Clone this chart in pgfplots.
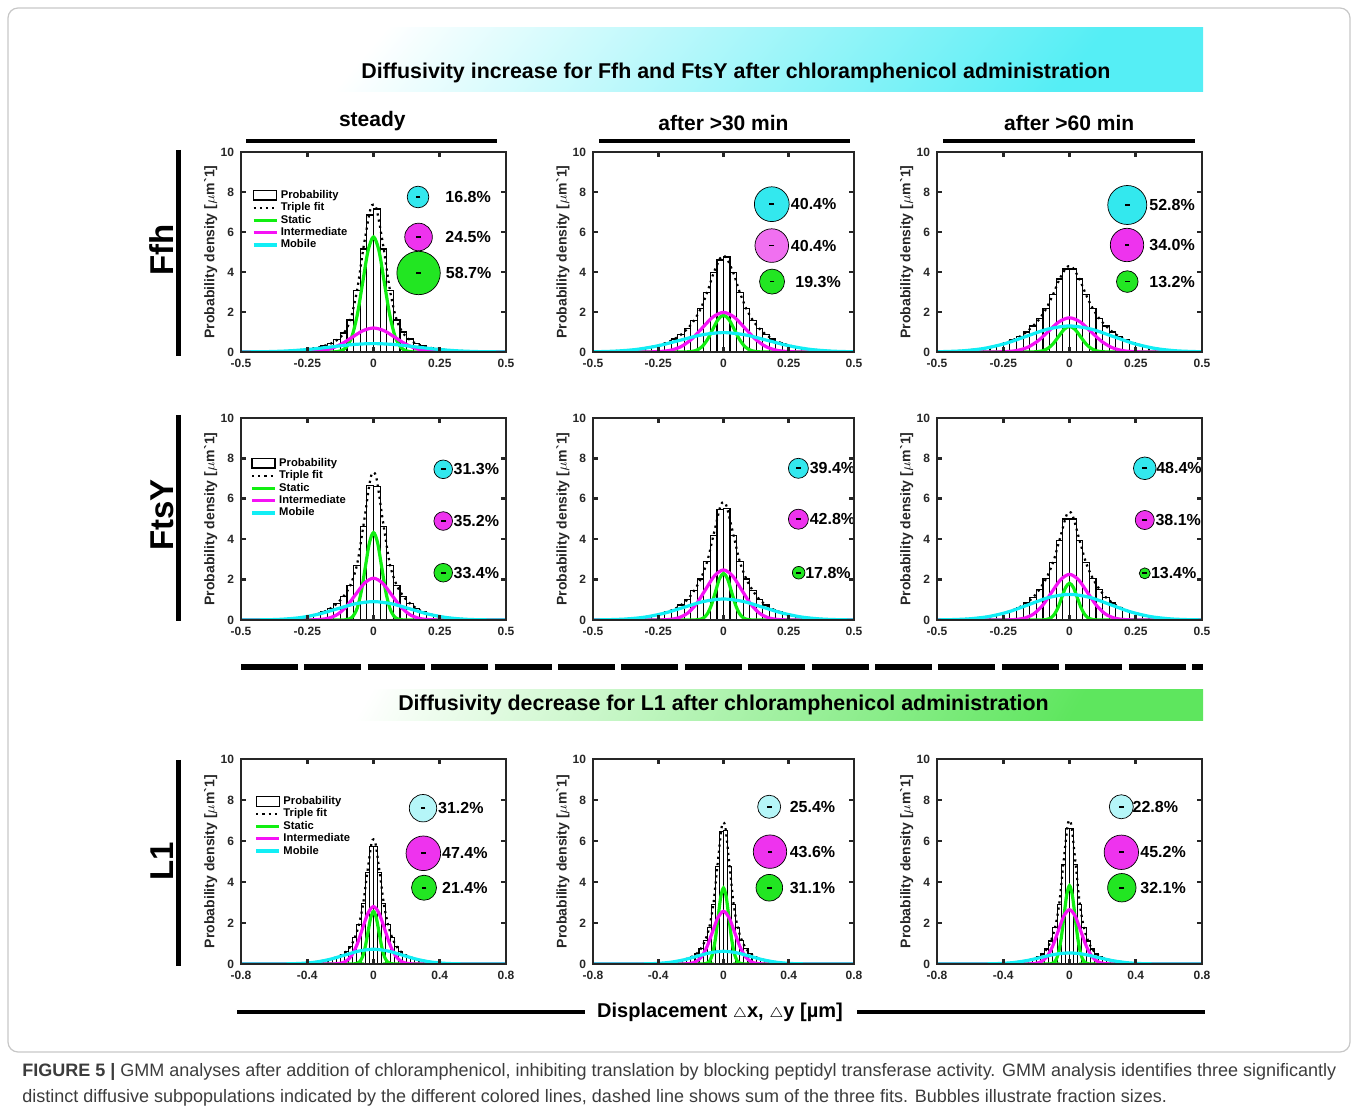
\documentclass[border=0pt]{standalone}
\usepackage{fontspec}
\setmainfont{Liberation Sans}
\usepackage{pgfplots}
\usepackage{pgfplotstable}
\pgfplotsset{compat=1.18}

\definecolor{axgray}{HTML}{262626}
\definecolor{gline}{HTML}{11EE11}
\definecolor{mline}{HTML}{F511F5}
\definecolor{cline}{HTML}{11EEF5}
\definecolor{gbub}{HTML}{22E622}
\definecolor{mbub}{HTML}{EE33EE}
\definecolor{mbubl}{HTML}{F070F0}
\definecolor{cbub}{HTML}{33E8EE}
\definecolor{cbubl}{HTML}{B5F6F8}
\definecolor{capgray}{HTML}{3C3C3C}
\definecolor{bancyan}{HTML}{55EEF5}
\definecolor{bangreen}{HTML}{5EE65E}

% histograms (bin centres) and triple fit, one table per panel
\pgfplotstableread{
x h f
-0.4875 0.004 0.004
-0.4625 0.006 0.006
-0.4375 0.010 0.010
-0.4125 0.015 0.015
-0.3875 0.022 0.022
-0.3625 0.032 0.032
-0.3375 0.045 0.045
-0.3125 0.062 0.062
-0.2875 0.086 0.086
-0.2625 0.115 0.115
-0.2375 0.160 0.160
-0.2125 0.210 0.210
-0.1875 0.300 0.300
-0.1625 0.410 0.410
-0.1375 0.620 0.600
-0.1125 0.950 0.920
-0.0875 1.600 1.600
-0.0625 3.070 3.050
-0.0375 5.150 5.250
-0.0125 6.850 7.100
0 nan 7.370
0.0125 7.150 7.100
0.0375 5.150 5.250
0.0625 3.070 3.050
0.0875 1.600 1.600
0.1125 1.000 0.920
0.1375 0.650 0.600
0.1625 0.420 0.410
0.1875 0.300 0.300
0.2125 0.210 0.210
0.2375 0.160 0.160
0.2625 0.115 0.115
0.2875 0.086 0.086
0.3125 0.062 0.062
0.3375 0.045 0.045
0.3625 0.032 0.032
0.3875 0.022 0.022
0.4125 0.015 0.015
0.4375 0.010 0.010
0.4625 0.006 0.006
0.4875 0.004 0.004
}\tAA

\pgfplotstableread{
x h f
-0.4875 0.013 0.013
-0.4625 0.020 0.020
-0.4375 0.030 0.030
-0.4125 0.045 0.045
-0.3875 0.064 0.064
-0.3625 0.089 0.089
-0.3375 0.122 0.122
-0.3125 0.165 0.165
-0.2875 0.220 0.220
-0.2625 0.290 0.290
-0.2375 0.380 0.380
-0.2125 0.490 0.490
-0.1875 0.650 0.650
-0.1625 0.870 0.870
-0.1375 1.170 1.170
-0.1125 1.580 1.580
-0.0875 2.160 2.160
-0.0625 2.980 2.980
-0.0375 3.960 3.960
-0.0125 4.600 4.690
0 nan 4.790
0.0125 4.750 4.690
0.0375 3.960 3.960
0.0625 2.980 2.980
0.0875 2.160 2.160
0.1125 1.580 1.580
0.1375 1.170 1.170
0.1625 0.870 0.870
0.1875 0.650 0.650
0.2125 0.490 0.490
0.2375 0.380 0.380
0.2625 0.290 0.290
0.2875 0.220 0.220
0.3125 0.165 0.165
0.3375 0.122 0.122
0.3625 0.089 0.089
0.3875 0.064 0.064
0.4125 0.045 0.045
0.4375 0.030 0.030
0.4625 0.020 0.020
0.4875 0.013 0.013
}\tAB

\pgfplotstableread{
x h f
-0.4875 0.014 0.014
-0.4625 0.022 0.022
-0.4375 0.034 0.034
-0.4125 0.051 0.051
-0.3875 0.074 0.074
-0.3625 0.110 0.110
-0.3375 0.150 0.150
-0.3125 0.200 0.200
-0.2875 0.270 0.270
-0.2625 0.360 0.360
-0.2375 0.460 0.460
-0.2125 0.600 0.600
-0.1875 0.770 0.770
-0.1625 1.000 1.000
-0.1375 1.300 1.300
-0.1125 1.670 1.670
-0.0875 2.180 2.180
-0.0625 2.860 2.860
-0.0375 3.650 3.650
-0.0125 4.150 4.210
0 nan 4.290
0.0125 4.150 4.210
0.0375 3.650 3.650
0.0625 2.860 2.860
0.0875 2.180 2.180
0.1125 1.670 1.670
0.1375 1.300 1.300
0.1625 1.000 1.000
0.1875 0.770 0.770
0.2125 0.600 0.600
0.2375 0.460 0.460
0.2625 0.360 0.360
0.2875 0.270 0.270
0.3125 0.200 0.200
0.3375 0.150 0.150
0.3625 0.110 0.110
0.3875 0.074 0.074
0.4125 0.051 0.051
0.4375 0.034 0.034
0.4625 0.022 0.022
0.4875 0.014 0.014
}\tAC

\pgfplotstableread{
x h f
-0.4875 0.002 0.002
-0.4625 0.003 0.003
-0.4375 0.006 0.006
-0.4125 0.010 0.010
-0.3875 0.016 0.016
-0.3625 0.027 0.027
-0.3375 0.044 0.044
-0.3125 0.067 0.067
-0.2875 0.100 0.100
-0.2625 0.146 0.146
-0.2375 0.210 0.210
-0.2125 0.290 0.290
-0.1875 0.400 0.400
-0.1625 0.570 0.570
-0.1375 0.820 0.820
-0.1125 1.180 1.180
-0.0875 1.720 1.720
-0.0625 2.720 2.720
-0.0375 4.650 4.720
-0.0125 6.650 6.930
0 nan 7.310
0.0125 6.600 6.930
0.0375 4.650 4.720
0.0625 2.720 2.720
0.0875 1.720 1.720
0.1125 1.180 1.180
0.1375 0.820 0.820
0.1625 0.570 0.570
0.1875 0.400 0.400
0.2125 0.290 0.290
0.2375 0.210 0.210
0.2625 0.146 0.146
0.2875 0.100 0.100
0.3125 0.067 0.067
0.3375 0.044 0.044
0.3625 0.027 0.027
0.3875 0.016 0.016
0.4125 0.010 0.010
0.4375 0.006 0.006
0.4625 0.003 0.003
0.4875 0.002 0.002
}\tBA

\pgfplotstableread{
x h f
-0.4875 0.006 0.006
-0.4625 0.010 0.010
-0.4375 0.016 0.016
-0.4125 0.025 0.025
-0.3875 0.038 0.038
-0.3625 0.058 0.058
-0.3375 0.085 0.085
-0.3125 0.122 0.122
-0.2875 0.170 0.170
-0.2625 0.230 0.230
-0.2375 0.310 0.310
-0.2125 0.410 0.410
-0.1875 0.540 0.540
-0.1625 0.740 0.740
-0.1375 1.020 1.020
-0.1125 1.450 1.450
-0.0875 2.030 2.030
-0.0625 2.890 2.890
-0.0375 4.200 4.250
-0.0125 5.450 5.610
0 nan 5.830
0.0125 5.500 5.610
0.0375 4.200 4.250
0.0625 2.890 2.890
0.0875 2.030 2.030
0.1125 1.450 1.450
0.1375 1.020 1.020
0.1625 0.740 0.740
0.1875 0.540 0.540
0.2125 0.410 0.410
0.2375 0.310 0.310
0.2625 0.230 0.230
0.2875 0.170 0.170
0.3125 0.122 0.122
0.3375 0.085 0.085
0.3625 0.058 0.058
0.3875 0.038 0.038
0.4125 0.025 0.025
0.4375 0.016 0.016
0.4625 0.010 0.010
0.4875 0.006 0.006
}\tBB

\pgfplotstableread{
x h f
-0.4875 0.007 0.007
-0.4625 0.012 0.012
-0.4375 0.020 0.020
-0.4125 0.032 0.032
-0.3875 0.050 0.050
-0.3625 0.074 0.074
-0.3375 0.108 0.108
-0.3125 0.154 0.154
-0.2875 0.210 0.210
-0.2625 0.290 0.290
-0.2375 0.380 0.380
-0.2125 0.490 0.490
-0.1875 0.640 0.640
-0.1625 0.840 0.840
-0.1375 1.120 1.120
-0.1125 1.530 1.530
-0.0875 2.070 2.070
-0.0625 2.830 2.830
-0.0375 3.950 3.970
-0.0125 5.000 5.150
0 nan 5.350
0.0125 5.000 5.150
0.0375 3.950 3.970
0.0625 2.830 2.830
0.0875 2.070 2.070
0.1125 1.530 1.530
0.1375 1.120 1.120
0.1625 0.840 0.840
0.1875 0.640 0.640
0.2125 0.490 0.490
0.2375 0.380 0.380
0.2625 0.290 0.290
0.2875 0.210 0.210
0.3125 0.154 0.154
0.3375 0.108 0.108
0.3625 0.074 0.074
0.3875 0.050 0.050
0.4125 0.032 0.032
0.4375 0.020 0.020
0.4625 0.012 0.012
0.4875 0.007 0.007
}\tBC

\pgfplotstableread{
x h f
-0.5375 0.006 0.006
-0.5125 0.009 0.009
-0.4875 0.013 0.013
-0.4625 0.020 0.020
-0.4375 0.030 0.030
-0.4125 0.042 0.042
-0.3875 0.058 0.058
-0.3625 0.080 0.080
-0.3375 0.107 0.107
-0.3125 0.141 0.141
-0.2875 0.181 0.181
-0.2625 0.228 0.228
-0.2375 0.290 0.290
-0.2125 0.360 0.360
-0.1875 0.460 0.460
-0.1625 0.620 0.620
-0.1375 0.875 0.875
-0.1125 1.290 1.290
-0.0875 1.930 1.930
-0.0625 2.940 2.940
-0.0375 4.460 4.460
-0.0125 5.750 5.860
0 nan 6.080
0.0125 5.750 5.860
0.0375 4.460 4.460
0.0625 2.940 2.940
0.0875 1.930 1.930
0.1125 1.290 1.290
0.1375 0.875 0.875
0.1625 0.620 0.620
0.1875 0.460 0.460
0.2125 0.360 0.360
0.2375 0.290 0.290
0.2625 0.228 0.228
0.2875 0.181 0.181
0.3125 0.141 0.141
0.3375 0.107 0.107
0.3625 0.080 0.080
0.3875 0.058 0.058
0.4125 0.042 0.042
0.4375 0.030 0.030
0.4625 0.020 0.020
0.4875 0.013 0.013
0.5125 0.009 0.009
0.5375 0.006 0.006
}\tCA

\pgfplotstableread{
x h f
-0.5375 0.003 0.003
-0.5125 0.004 0.004
-0.4875 0.007 0.007
-0.4625 0.011 0.011
-0.4375 0.017 0.017
-0.4125 0.025 0.025
-0.3875 0.037 0.037
-0.3625 0.052 0.052
-0.3375 0.073 0.073
-0.3125 0.100 0.100
-0.2875 0.130 0.130
-0.2625 0.170 0.170
-0.2375 0.220 0.220
-0.2125 0.280 0.280
-0.1875 0.380 0.380
-0.1625 0.520 0.520
-0.1375 0.760 0.760
-0.1125 1.150 1.150
-0.0875 1.780 1.780
-0.0625 2.900 2.900
-0.0375 4.770 4.770
-0.0125 6.450 6.610
0 nan 6.900
0.0125 6.500 6.610
0.0375 4.770 4.770
0.0625 2.900 2.900
0.0875 1.780 1.780
0.1125 1.150 1.150
0.1375 0.760 0.760
0.1625 0.520 0.520
0.1875 0.380 0.380
0.2125 0.280 0.280
0.2375 0.220 0.220
0.2625 0.170 0.170
0.2875 0.130 0.130
0.3125 0.100 0.100
0.3375 0.073 0.073
0.3625 0.052 0.052
0.3875 0.037 0.037
0.4125 0.025 0.025
0.4375 0.017 0.017
0.4625 0.011 0.011
0.4875 0.007 0.007
0.5125 0.004 0.004
0.5375 0.003 0.003
}\tCB

\pgfplotstableread{
x h f
-0.5375 0.003 0.003
-0.5125 0.005 0.005
-0.4875 0.008 0.008
-0.4625 0.012 0.012
-0.4375 0.018 0.018
-0.4125 0.026 0.026
-0.3875 0.038 0.038
-0.3625 0.052 0.052
-0.3375 0.072 0.072
-0.3125 0.096 0.096
-0.2875 0.125 0.125
-0.2625 0.160 0.160
-0.2375 0.205 0.205
-0.2125 0.260 0.260
-0.1875 0.350 0.350
-0.1625 0.490 0.490
-0.1375 0.730 0.730
-0.1125 1.120 1.120
-0.0875 1.760 1.760
-0.0625 2.910 2.910
-0.0375 4.850 4.850
-0.0125 6.600 6.700
0 nan 7.010
0.0125 6.600 6.700
0.0375 4.850 4.850
0.0625 2.910 2.910
0.0875 1.760 1.760
0.1125 1.120 1.120
0.1375 0.730 0.730
0.1625 0.490 0.490
0.1875 0.350 0.350
0.2125 0.260 0.260
0.2375 0.205 0.205
0.2625 0.160 0.160
0.2875 0.125 0.125
0.3125 0.096 0.096
0.3375 0.072 0.072
0.3625 0.052 0.052
0.3875 0.038 0.038
0.4125 0.026 0.026
0.4375 0.018 0.018
0.4625 0.012 0.012
0.4875 0.008 0.008
0.5125 0.005 0.005
0.5375 0.003 0.003
}\tCC

\pgfplotsset{
  panel/.style={
    scale only axis, anchor=south west, axis on top,
    ymin=0, ymax=10, ytick={0,2,4,6,8,10},
    axis line style={line width=1.3pt, draw=axgray},
    tick style={line width=1.3pt, draw=axgray},
    major tick length=2.4pt,
    tick label style={font=\bfseries\fontsize{6}{6}\selectfont, text=axgray},
    /pgf/number format/assume math mode=true,
    ylabel={Probability density [$\mu$m\textasciigrave 1]},
    ylabel style={font=\bfseries\fontsize{7}{7}\selectfont, text=axgray,
      at={(axis description cs:-0.088,0.5)}, anchor=south, inner sep=0pt},
    legend cell align=left,
    legend style={draw=none, fill=none, inner sep=0pt, anchor=north west,
      font=\bfseries\fontsize{5.6}{5.6}\selectfont, row sep=0.2pt,
      nodes={inner sep=0.3pt, text height=4.2pt, text depth=1.2pt},
      /tikz/every odd column/.append style={column sep=1pt}},
    legend image code/.code={\draw[#1] (0pt,0pt) -- (11.5pt,0pt);},
  },
  rowab/.style={xmin=-0.5, xmax=0.5, xtick={-0.5,-0.25,0,0.25,0.5}},
  rowc/.style={xmin=-0.8, xmax=0.8, xtick={-0.8,-0.4,0,0.4,0.8}},
  hist/.style={ybar, bar width=0.025, bar shift=0pt, fill=white, draw=black,
    line width=0.55pt,
    legend image code/.code={\draw[black, line width=0.55pt, fill=white]
      (0pt,-2.3pt) rectangle (11.5pt,2.3pt);}},
  fitl/.style={black, dotted, line width=1.1pt, smooth},
  stl/.style={gline, line width=1.6pt, smooth},
  inl/.style={mline, line width=1.6pt, smooth},
  mol/.style={cline, line width=1.6pt, smooth},
}

\newcommand{\bub}[4]{%
  \addplot[only marks, mark=*, mark size=#3,
    mark options={fill=#4, draw=black, line width=0.35pt}, forget plot]
    coordinates {(#1,#2)};
  \addplot[only marks, mark=-, mark size=1.2pt,
    mark options={draw=black, line width=0.9pt}, forget plot]
    coordinates {(#1,#2)};
}
\newcommand{\pct}[3]{\node[anchor=west, inner sep=0pt,
  font=\bfseries\fontsize{8}{8}\selectfont] at (axis cs:#1,#2) {#3\%};}

\begin{document}
\begin{tikzpicture}
\useasboundingbox (0,0) rectangle (678.5pt,-556pt);

\begin{scope}[x=0.5pt, y=-0.5pt]
  \draw[black!22, line width=0.6pt, rounded corners=5pt] (8,8) rectangle (1350,1052);
  % banners
  \shade[top color=white, bottom color=bancyan, shading angle=50] (237,28) rectangle (1203,92);
  \node[anchor=base, font=\bfseries\fontsize{10.7}{12}\selectfont]
    at (736,79) {Diffusivity increase for Ffh and FtsY after chloramphenicol administration};
  \shade[top color=white, bottom color=bangreen, shading angle=60] (237,690) rectangle (1203,721);
  \node[anchor=base, font=\bfseries\fontsize{10.7}{12}\selectfont]
    at (723.5,711) {Diffusivity decrease for L1 after chloramphenicol administration};
  % column titles
  \node[anchor=base, font=\bfseries\fontsize{10.5}{12}\selectfont] at (372.3,127) {steady};
  \node[anchor=base, font=\bfseries\fontsize{10.5}{12}\selectfont] at (723.5,130.5) {after >30 min};
  \node[anchor=base, font=\bfseries\fontsize{10.5}{12}\selectfont] at (1069.2,130.5) {after >60 min};
  \draw[line width=1.8pt] (246,141) -- (497,141);
  \draw[line width=1.8pt] (599,141) -- (850,141);
  \draw[line width=1.8pt] (943,141) -- (1195,141);
  % row labels
  \node[rotate=90, anchor=base, font=\bfseries\fontsize{16.5}{16.5}\selectfont] at (173,250) {Ffh};
  \node[rotate=90, anchor=base, font=\bfseries\fontsize{16.5}{16.5}\selectfont] at (173,515) {FtsY};
  \node[rotate=90, anchor=base, font=\bfseries\fontsize{16.5}{16.5}\selectfont] at (173,861.5) {L1};
  \draw[line width=2.3pt] (178.5,150) -- (178.5,356);
  \draw[line width=2.3pt] (178.5,415) -- (178.5,621);
  \draw[line width=2.3pt] (178.5,760) -- (178.5,966);
  % separator
  \draw[line width=2.6pt, dash pattern=on 28.5pt off 3.2pt] (241,667) -- (1203,667);
  % common x label
  \node[anchor=base, font=\bfseries\fontsize{10}{12}\selectfont]
    at (720,1018) {Displacement {\fontsize{7.5}{8}\selectfont$\triangle$}x, {\fontsize{7.5}{8}\selectfont$\triangle$}y [µm]};
  \draw[line width=1.6pt] (237,1012) -- (585,1012);
  \draw[line width=1.6pt] (857,1012) -- (1205,1012);
  % caption
  \node[anchor=base west, inner sep=0pt, text=capgray, font=\fontsize{9}{10}\selectfont] at (22,1076)
    {\textbf{FIGURE 5 |} GMM analyses after addition of chloramphenicol, inhibiting translation by blocking peptidyl transferase activity. GMM analysis identifies three significantly};
  \node[anchor=base west, inner sep=0pt, text=capgray, font=\fontsize{9}{10}\selectfont] at (22,1102)
    {distinct diffusive subpopulations indicated by the different colored lines, dashed line shows sum of the three fits. Bubbles illustrate fraction sizes.};
\end{scope}

% ---------------- Ffh steady
\begin{axis}[panel, rowab, at={(120.5pt,-176pt)}, width=132.5pt, height=100pt,
  legend style={at={(axis description cs:0.04,0.815)}}]
\addplot[hist] table[x=x, y=h] {\tAA};
\addplot[fitl] table[x=x, y=f] {\tAA};
\addplot[stl] coordinates {(-0.5,0) (-0.1628,0.002) (-0.1425,0.013) (-0.1221,0.064) (-0.1018,0.252) (-0.0814,0.778) (-0.0611,1.867) (-0.0407,3.487) (-0.0204,5.074) (0,5.75) (0.0204,5.074) (0.0407,3.487) (0.0611,1.867) (0.0814,0.778) (0.1018,0.252) (0.1221,0.064) (0.1425,0.013) (0.1628,0.002) (0.5,0)};
\addplot[inl] coordinates {(-0.5,0) (-0.326,0) (-0.2853,0.003) (-0.2445,0.013) (-0.2038,0.053) (-0.163,0.162) (-0.1223,0.39) (-0.0815,0.728) (-0.0408,1.059) (0,1.2) (0.0408,1.059) (0.0815,0.728) (0.1223,0.39) (0.163,0.162) (0.2038,0.053) (0.2445,0.013) (0.2853,0.003) (0.326,0) (0.5,0)};
\addplot[mol] coordinates {(-0.5,0.003) (-0.399,0.018) (-0.3192,0.057) (-0.2394,0.136) (-0.1596,0.255) (-0.0798,0.371) (0,0.42) (0.0798,0.371) (0.1596,0.255) (0.2394,0.136) (0.3192,0.057) (0.399,0.018) (0.5,0.003)};
\bub{0.168}{7.75}{5.4pt}{cbub}
\bub{0.170}{5.75}{6.9pt}{mbub}
\bub{0.170}{3.95}{10.85pt}{gbub}
\pct{0.270}{7.75}{16.8}
\pct{0.270}{5.75}{24.5}
\pct{0.272}{3.95}{58.7}
\legend{Probability,Triple fit,Static,Intermediate,Mobile}
\end{axis}

% ---------------- Ffh 30 min
\begin{axis}[panel, rowab, at={(296.5pt,-176pt)}, width=130.5pt, height=100pt]
\addplot[hist] table[x=x, y=h] {\tAB};
\addplot[fitl] table[x=x, y=f] {\tAB};
\addplot[stl] coordinates {(-0.5,0) (-0.1672,0.001) (-0.1463,0.004) (-0.1254,0.02) (-0.1045,0.081) (-0.0836,0.249) (-0.0627,0.597) (-0.0418,1.116) (-0.0209,1.624) (0,1.84) (0.0209,1.624) (0.0418,1.116) (0.0627,0.597) (0.0836,0.249) (0.1045,0.081) (0.1254,0.02) (0.1463,0.004) (0.1672,0.001) (0.5,0)};
\addplot[inl] coordinates {(-0.5,0) (-0.3256,0.001) (-0.2849,0.004) (-0.2442,0.022) (-0.2035,0.087) (-0.1628,0.268) (-0.1221,0.643) (-0.0814,1.201) (-0.0407,1.747) (0,1.98) (0.0407,1.747) (0.0814,1.201) (0.1221,0.643) (0.1628,0.268) (0.2035,0.087) (0.2442,0.022) (0.2849,0.004) (0.3256,0.001) (0.5,0)};
\addplot[mol] coordinates {(-0.5,0.01) (-0.415,0.043) (-0.332,0.131) (-0.249,0.315) (-0.166,0.588) (-0.083,0.856) (0,0.97) (0.083,0.856) (0.166,0.588) (0.249,0.315) (0.332,0.131) (0.415,0.043) (0.5,0.01)};
\bub{0.185}{7.39}{8.7pt}{cbub}
\bub{0.185}{5.32}{8.4pt}{mbubl}
\bub{0.186}{3.52}{6.25pt}{gbub}
\pct{0.257}{7.39}{40.4}
\pct{0.257}{5.32}{40.4}
\pct{0.274}{3.52}{19.3}
\end{axis}

% ---------------- Ffh 60 min
\begin{axis}[panel, rowab, at={(468.5pt,-176pt)}, width=132.5pt, height=100pt]
\addplot[hist] table[x=x, y=h] {\tAC};
\addplot[fitl] table[x=x, y=f] {\tAC};
\addplot[stl] coordinates {(-0.5,0) (-0.1644,0) (-0.1439,0.003) (-0.1233,0.014) (-0.1028,0.056) (-0.0822,0.173) (-0.0617,0.416) (-0.0411,0.776) (-0.0206,1.13) (0,1.28) (0.0206,1.13) (0.0411,0.776) (0.0617,0.416) (0.0822,0.173) (0.1028,0.056) (0.1233,0.014) (0.1439,0.003) (0.1644,0) (0.5,0)};
\addplot[inl] coordinates {(-0.5,0) (-0.3172,0.001) (-0.2776,0.004) (-0.2379,0.019) (-0.1983,0.075) (-0.1586,0.231) (-0.119,0.555) (-0.0793,1.037) (-0.0397,1.509) (0,1.71) (0.0397,1.509) (0.0793,1.037) (0.119,0.555) (0.1586,0.231) (0.1983,0.075) (0.2379,0.019) (0.2776,0.004) (0.3172,0.001) (0.5,0)};
\addplot[mol] coordinates {(-0.5,0.011) (-0.405,0.057) (-0.324,0.176) (-0.243,0.422) (-0.162,0.788) (-0.081,1.147) (0,1.3) (0.081,1.147) (0.162,0.788) (0.243,0.422) (0.324,0.176) (0.405,0.057) (0.5,0.011)};
\bub{0.218}{7.35}{9.75pt}{cbub}
\bub{0.217}{5.35}{8.35pt}{mbub}
\bub{0.218}{3.52}{5.4pt}{gbub}
\pct{0.300}{7.35}{52.8}
\pct{0.300}{5.35}{34.0}
\pct{0.300}{3.52}{13.2}
\end{axis}

% ---------------- FtsY steady
\begin{axis}[panel, rowab, at={(120.5pt,-310pt)}, width=132.5pt, height=101pt,
  legend style={at={(axis description cs:0.034,0.807)}}]
\addplot[hist] table[x=x, y=h] {\tBA};
\addplot[fitl] table[x=x, y=f] {\tBA};
\addplot[stl] coordinates {(-0.5,0) (-0.1232,0.001) (-0.1078,0.01) (-0.0924,0.048) (-0.077,0.19) (-0.0616,0.586) (-0.0462,1.406) (-0.0308,2.626) (-0.0154,3.821) (0,4.33) (0.0154,3.821) (0.0308,2.626) (0.0462,1.406) (0.0616,0.586) (0.077,0.19) (0.0924,0.048) (0.1078,0.01) (0.1232,0.001) (0.5,0)};
\addplot[inl] coordinates {(-0.5,0) (-0.2712,0.001) (-0.2373,0.005) (-0.2034,0.023) (-0.1695,0.091) (-0.1356,0.28) (-0.1017,0.672) (-0.0678,1.255) (-0.0339,1.827) (0,2.07) (0.0339,1.827) (0.0678,1.255) (0.1017,0.672) (0.1356,0.28) (0.1695,0.091) (0.2034,0.023) (0.2373,0.005) (0.2712,0.001) (0.5,0)};
\addplot[mol] coordinates {(-0.5,0.001) (-0.411,0.01) (-0.3425,0.04) (-0.274,0.123) (-0.2055,0.295) (-0.137,0.552) (-0.0685,0.803) (0,0.91) (0.0685,0.803) (0.137,0.552) (0.2055,0.295) (0.274,0.123) (0.3425,0.04) (0.411,0.01) (0.5,0.001)};
\bub{0.263}{7.46}{4.65pt}{cbub}
\bub{0.263}{4.90}{4.65pt}{mbub}
\bub{0.263}{2.34}{4.65pt}{gbub}
\pct{0.301}{7.46}{31.3}
\pct{0.301}{4.90}{35.2}
\pct{0.301}{2.34}{33.4}
\legend{Probability,Triple fit,Static,Intermediate,Mobile}
\end{axis}

% ---------------- FtsY 30 min
\begin{axis}[panel, rowab, at={(296.5pt,-310pt)}, width=130.5pt, height=101pt]
\addplot[hist] table[x=x, y=h] {\tBB};
\addplot[fitl] table[x=x, y=f] {\tBB};
\addplot[stl] coordinates {(-0.5,0) (-0.1228,0.001) (-0.1075,0.005) (-0.0921,0.026) (-0.0768,0.101) (-0.0614,0.313) (-0.0461,0.75) (-0.0307,1.401) (-0.0154,2.039) (0,2.31) (0.0154,2.039) (0.0307,1.401) (0.0461,0.75) (0.0614,0.313) (0.0768,0.101) (0.0921,0.026) (0.1075,0.005) (0.1228,0.001) (0.5,0)};
\addplot[inl] coordinates {(-0.5,0) (-0.2756,0.001) (-0.2412,0.005) (-0.2067,0.028) (-0.1723,0.109) (-0.1378,0.336) (-0.1034,0.805) (-0.0689,1.504) (-0.0345,2.189) (0,2.48) (0.0345,2.189) (0.0689,1.504) (0.1034,0.805) (0.1378,0.336) (0.1723,0.109) (0.2067,0.028) (0.2412,0.005) (0.2756,0.001) (0.5,0)};
\addplot[mol] coordinates {(-0.5,0.004) (-0.453,0.012) (-0.3775,0.046) (-0.302,0.141) (-0.2265,0.338) (-0.151,0.631) (-0.0755,0.918) (0,1.04) (0.0755,0.918) (0.151,0.631) (0.2265,0.338) (0.302,0.141) (0.3775,0.046) (0.453,0.012) (0.5,0.004)};
\bub{0.287}{7.51}{5pt}{cbub}
\bub{0.287}{4.99}{5pt}{mbub}
\bub{0.288}{2.34}{3.15pt}{gbub}
\pct{0.329}{7.51}{39.4}
\pct{0.329}{4.99}{42.8}
\pct{0.312}{2.34}{17.8}
\end{axis}

% ---------------- FtsY 60 min
\begin{axis}[panel, rowab, at={(468.5pt,-310pt)}, width=132.5pt, height=101pt]
\addplot[hist] table[x=x, y=h] {\tBC};
\addplot[fitl] table[x=x, y=f] {\tBC};
\addplot[stl] coordinates {(-0.5,0) (-0.1176,0.001) (-0.1029,0.004) (-0.0882,0.02) (-0.0735,0.08) (-0.0588,0.246) (-0.0441,0.591) (-0.0294,1.104) (-0.0147,1.606) (0,1.82) (0.0147,1.606) (0.0294,1.104) (0.0441,0.591) (0.0588,0.246) (0.0735,0.08) (0.0882,0.02) (0.1029,0.004) (0.1176,0.001) (0.5,0)};
\addplot[inl] coordinates {(-0.5,0) (-0.2692,0.001) (-0.2356,0.005) (-0.2019,0.025) (-0.1683,0.099) (-0.1346,0.306) (-0.101,0.734) (-0.0673,1.371) (-0.0337,1.994) (0,2.26) (0.0337,1.994) (0.0673,1.371) (0.101,0.734) (0.1346,0.306) (0.1683,0.099) (0.2019,0.025) (0.2356,0.005) (0.2692,0.001) (0.5,0)};
\addplot[mol] coordinates {(-0.5,0.006) (-0.456,0.014) (-0.38,0.056) (-0.304,0.172) (-0.228,0.412) (-0.152,0.77) (-0.076,1.121) (0,1.27) (0.076,1.121) (0.152,0.77) (0.228,0.412) (0.304,0.172) (0.38,0.056) (0.456,0.014) (0.5,0.006)};
\bub{0.284}{7.51}{5.65pt}{cbub}
\bub{0.284}{4.95}{4.75pt}{mbub}
\bub{0.284}{2.31}{2.75pt}{gbub}
\pct{0.326}{7.51}{48.4}
\pct{0.323}{4.95}{38.1}
\pct{0.306}{2.31}{13.4}
\end{axis}

% ---------------- L1 steady
\begin{axis}[panel, rowc, at={(120.5pt,-482pt)}, width=132.5pt, height=102.5pt,
  legend style={at={(axis description cs:0.05,0.824)}}]
\addplot[hist] table[x=x, y=h] {\tCA};
\addplot[fitl] table[x=x, y=f] {\tCA};
\addplot[stl] coordinates {(-0.8,0) (-0.1332,0.001) (-0.1166,0.006) (-0.0999,0.028) (-0.0833,0.112) (-0.0666,0.346) (-0.05,0.831) (-0.0333,1.553) (-0.0167,2.259) (0,2.56) (0.0167,2.259) (0.0333,1.553) (0.05,0.831) (0.0666,0.346) (0.0833,0.112) (0.0999,0.028) (0.1166,0.006) (0.1332,0.001) (0.8,0)};
\addplot[inl] coordinates {(-0.8,0) (-0.27,0.001) (-0.2363,0.006) (-0.2025,0.031) (-0.1688,0.123) (-0.135,0.379) (-0.1013,0.909) (-0.0675,1.698) (-0.0338,2.471) (0,2.8) (0.0338,2.471) (0.0675,1.698) (0.1013,0.909) (0.135,0.379) (0.1688,0.123) (0.2025,0.031) (0.2363,0.006) (0.27,0.001) (0.8,0)};
\addplot[mol] coordinates {(-0.8,0) (-0.692,0) (-0.6055,0.002) (-0.519,0.008) (-0.4325,0.032) (-0.346,0.097) (-0.2595,0.234) (-0.173,0.437) (-0.0865,0.635) (0,0.72) (0.0865,0.635) (0.173,0.437) (0.2595,0.234) (0.346,0.097) (0.4325,0.032) (0.519,0.008) (0.6055,0.002) (0.692,0) (0.8,0)};
\bub{0.299}{7.60}{6.85pt}{cbubl}
\bub{0.301}{5.40}{8.65pt}{mbub}
\bub{0.305}{3.72}{6.25pt}{gbub}
\pct{0.388}{7.60}{31.2}
\pct{0.412}{5.40}{47.4}
\pct{0.412}{3.72}{21.4}
\legend{Probability,Triple fit,Static,Intermediate,Mobile}
\end{axis}

% ---------------- L1 30 min
\begin{axis}[panel, rowc, at={(296.5pt,-482pt)}, width=130.5pt, height=102.5pt]
\addplot[hist] table[x=x, y=h] {\tCB};
\addplot[fitl] table[x=x, y=f] {\tCB};
\addplot[stl] coordinates {(-0.8,0) (-0.1336,0.001) (-0.1169,0.008) (-0.1002,0.041) (-0.0835,0.163) (-0.0668,0.502) (-0.0501,1.205) (-0.0334,2.25) (-0.0167,3.274) (0,3.71) (0.0167,3.274) (0.0334,2.25) (0.0501,1.205) (0.0668,0.502) (0.0835,0.163) (0.1002,0.041) (0.1169,0.008) (0.1336,0.001) (0.8,0)};
\addplot[inl] coordinates {(-0.8,0) (-0.2708,0.001) (-0.237,0.006) (-0.2031,0.029) (-0.1693,0.113) (-0.1354,0.348) (-0.1016,0.834) (-0.0677,1.559) (-0.0339,2.268) (0,2.57) (0.0339,2.268) (0.0677,1.559) (0.1016,0.834) (0.1354,0.348) (0.1693,0.113) (0.2031,0.029) (0.237,0.006) (0.2708,0.001) (0.8,0)};
\addplot[mol] coordinates {(-0.8,0) (-0.652,0) (-0.5705,0.001) (-0.489,0.007) (-0.4075,0.027) (-0.326,0.084) (-0.2445,0.201) (-0.163,0.376) (-0.0815,0.547) (0,0.62) (0.0815,0.547) (0.163,0.376) (0.2445,0.201) (0.326,0.084) (0.4075,0.027) (0.489,0.007) (0.5705,0.001) (0.652,0) (0.8,0)};
\bub{0.280}{7.67}{5.75pt}{cbubl}
\bub{0.285}{5.48}{8.35pt}{mbub}
\bub{0.281}{3.72}{6.65pt}{gbub}
\pct{0.404}{7.67}{25.4}
\pct{0.404}{5.48}{43.6}
\pct{0.404}{3.72}{31.1}
\end{axis}

% ---------------- L1 60 min
\begin{axis}[panel, rowc, at={(468.5pt,-482pt)}, width=132.5pt, height=102.5pt]
\addplot[hist] table[x=x, y=h] {\tCC};
\addplot[fitl] table[x=x, y=f] {\tCC};
\addplot[stl] coordinates {(-0.8,0) (-0.134,0.001) (-0.1173,0.008) (-0.1005,0.042) (-0.0838,0.168) (-0.067,0.517) (-0.0503,1.24) (-0.0335,2.317) (-0.0168,3.371) (0,3.82) (0.0168,3.371) (0.0335,2.317) (0.0503,1.24) (0.067,0.517) (0.0838,0.168) (0.1005,0.042) (0.1173,0.008) (0.134,0.001) (0.8,0)};
\addplot[inl] coordinates {(-0.8,0) (-0.2724,0.001) (-0.2384,0.006) (-0.2043,0.029) (-0.1703,0.116) (-0.1362,0.359) (-0.1022,0.86) (-0.0681,1.607) (-0.0341,2.339) (0,2.65) (0.0341,2.339) (0.0681,1.607) (0.1022,0.86) (0.1362,0.359) (0.1703,0.116) (0.2043,0.029) (0.2384,0.006) (0.2724,0.001) (0.8,0)};
\addplot[mol] coordinates {(-0.8,0) (-0.672,0) (-0.588,0.001) (-0.504,0.006) (-0.42,0.024) (-0.336,0.073) (-0.252,0.175) (-0.168,0.328) (-0.084,0.477) (0,0.54) (0.084,0.477) (0.168,0.328) (0.252,0.175) (0.336,0.073) (0.42,0.024) (0.504,0.006) (0.588,0.001) (0.672,0) (0.8,0)};
\bub{0.313}{7.67}{6pt}{cbubl}
\bub{0.313}{5.45}{8.6pt}{mbub}
\bub{0.316}{3.72}{7.1pt}{gbub}
\pct{0.379}{7.67}{22.8}
\pct{0.426}{5.45}{45.2}
\pct{0.426}{3.72}{32.1}
\end{axis}
\end{tikzpicture}
\end{document}
